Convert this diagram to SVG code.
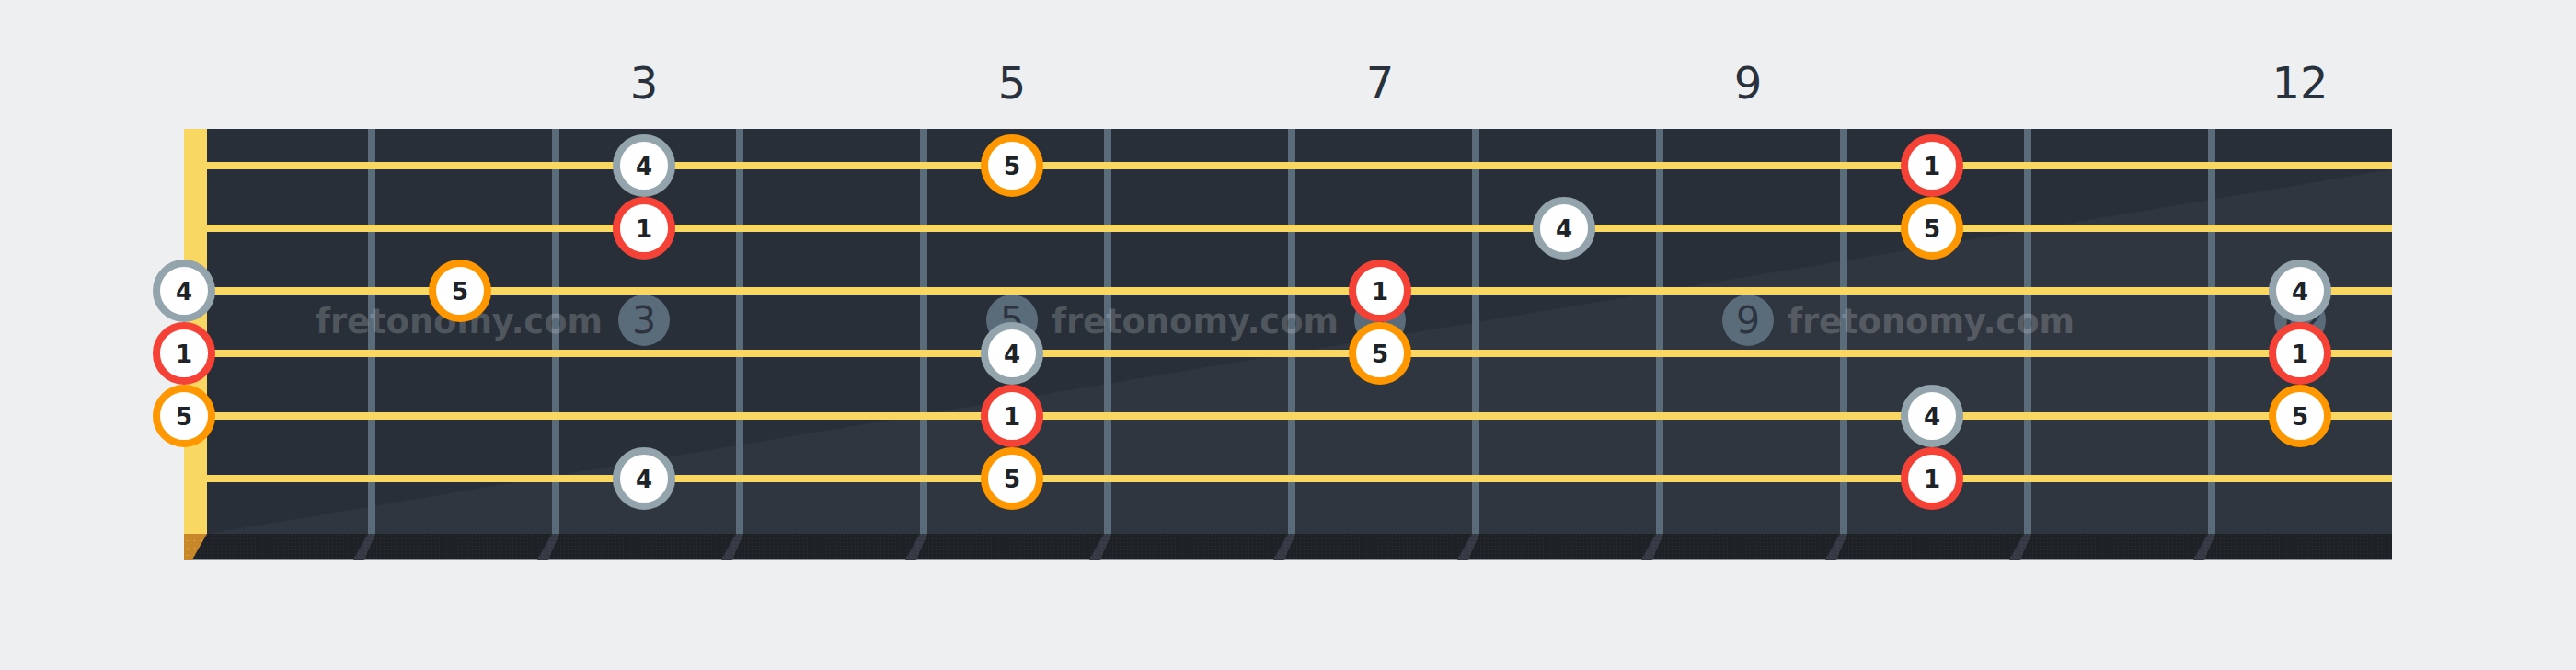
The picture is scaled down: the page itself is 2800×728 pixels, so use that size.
<svg xmlns="http://www.w3.org/2000/svg" width="2800" height="728" viewBox="0 0 2800 728">
<style>
.flabel{font-family:"DejaVu Sans","Liberation Sans",sans-serif;font-size:48px;fill:#29323c;text-anchor:middle}
.fret{fill:#5a6b7a}
.str{stroke:#f8d862;stroke-width:8}
.face{fill:url(#dotsGray)}
.wm{font-family:"DejaVu Sans","Liberation Sans",sans-serif;font-weight:bold;font-size:37px;fill:#ffffff;fill-opacity:0.19}
.wmc{fill:#5a6b7a}
.wmd{font-family:"DejaVu Sans","Liberation Sans",sans-serif;font-size:41px;fill:#2c3440;text-anchor:middle}
.n circle{fill:#ffffff;stroke-width:8}
.n text{font-family:"DejaVu Sans","Liberation Sans",sans-serif;font-weight:bold;font-size:26px;fill:#1e2328;text-anchor:middle}
.r circle{stroke:#f44336}
.o circle{stroke:#ff9800}
.g circle{stroke:#93a4ad}
</style>
<defs>
<pattern id="dotsDark" width="4" height="4" patternUnits="userSpaceOnUse">
<rect width="4" height="4" fill="#1e2227"/>
<rect x="1" y="1" width="1" height="1" fill="#2a2f36"/>
</pattern>
<pattern id="dotsGray" width="4" height="4" patternUnits="userSpaceOnUse">
<rect width="4" height="4" fill="#343943"/>
<rect x="1" y="1" width="1" height="1" fill="#4a505a"/>
</pattern>
<pattern id="dotsNut" width="8" height="8" patternUnits="userSpaceOnUse">
<rect width="8" height="8" fill="#c8882a"/>
<rect x="3" y="3" width="1" height="1" fill="#f0c060"/>
</pattern>
</defs>
<rect width="2800" height="728" fill="#eeeff1"/>
<g id="fret-numbers">
<text class="flabel" x="700" y="107">3</text>
<text class="flabel" x="1100" y="107">5</text>
<text class="flabel" x="1500" y="107">7</text>
<text class="flabel" x="1900" y="107">9</text>
<text class="flabel" x="2500" y="107">12</text>
</g>
<g id="fretboard">
<rect x="225" y="140" width="2375" height="440" fill="#282f38"/>
<polygon points="225,580 2600,184 2600,580" fill="#30363f"/>
<rect x="200" y="580" width="2400" height="28" fill="url(#dotsDark)"/>
<rect x="200" y="607" width="2400" height="2" fill="#8d949b"/>
<rect x="200" y="140" width="25" height="440" fill="#f8d862"/>
<polygon points="200,580 225,580 209,608 200,608" fill="url(#dotsNut)"/>
<g id="fret-faces">
<polygon class="face" points="400,580 408,580 396,608 384,608"/>
<polygon class="face" points="600,580 608,580 596,608 584,608"/>
<polygon class="face" points="800,580 808,580 796,608 784,608"/>
<polygon class="face" points="1000,580 1008,580 996,608 984,608"/>
<polygon class="face" points="1200,580 1208,580 1196,608 1184,608"/>
<polygon class="face" points="1400,580 1408,580 1396,608 1384,608"/>
<polygon class="face" points="1600,580 1608,580 1596,608 1584,608"/>
<polygon class="face" points="1800,580 1808,580 1796,608 1784,608"/>
<polygon class="face" points="2000,580 2008,580 1996,608 1984,608"/>
<polygon class="face" points="2200,580 2208,580 2196,608 2184,608"/>
<polygon class="face" points="2400,580 2408,580 2396,608 2384,608"/>
</g>
<g id="frets">
<rect class="fret" x="400" y="140" width="8" height="440"/>
<rect class="fret" x="600" y="140" width="8" height="440"/>
<rect class="fret" x="800" y="140" width="8" height="440"/>
<rect class="fret" x="1000" y="140" width="8" height="440"/>
<rect class="fret" x="1200" y="140" width="8" height="440"/>
<rect class="fret" x="1400" y="140" width="8" height="440"/>
<rect class="fret" x="1600" y="140" width="8" height="440"/>
<rect class="fret" x="1800" y="140" width="8" height="440"/>
<rect class="fret" x="2000" y="140" width="8" height="440"/>
<rect class="fret" x="2200" y="140" width="8" height="440"/>
<rect class="fret" x="2400" y="140" width="8" height="440"/>
</g>
<g id="watermark">
<circle class="wmc" cx="700" cy="348" r="28"/>
<text class="wmd" x="700" y="362">3</text>
<circle class="wmc" cx="1100" cy="348" r="28"/>
<text class="wmd" x="1100" y="362">5</text>
<circle class="wmc" cx="1500" cy="348" r="28"/>
<text class="wmd" x="1500" y="362">7</text>
<circle class="wmc" cx="1900" cy="348" r="28"/>
<text class="wmd" x="1900" y="362">9</text>
<circle class="wmc" cx="2500" cy="348" r="28"/>
<text class="wmd" x="2500" y="362">12</text>
<text class="wm" x="343" y="362" textLength="312">fretonomy.com</text>
<text class="wm" x="1143" y="362" textLength="312">fretonomy.com</text>
<text class="wm" x="1943" y="362" textLength="312">fretonomy.com</text>
</g>
<g id="strings">
<line class="str" x1="225" y1="180" x2="2600" y2="180"/>
<line class="str" x1="225" y1="248" x2="2600" y2="248"/>
<line class="str" x1="225" y1="316" x2="2600" y2="316"/>
<line class="str" x1="225" y1="384" x2="2600" y2="384"/>
<line class="str" x1="225" y1="452" x2="2600" y2="452"/>
<line class="str" x1="225" y1="520" x2="2600" y2="520"/>
</g>
</g>
<g id="notes">
<g id="n1-3" class="n g"><circle cx="700" cy="180" r="30"/><text x="700" y="189.5">4</text></g>
<g id="n1-5" class="n o"><circle cx="1100" cy="180" r="30"/><text x="1100" y="189.5">5</text></g>
<g id="n1-10" class="n r"><circle cx="2100" cy="180" r="30"/><text x="2100" y="189.5">1</text></g>
<g id="n2-3" class="n r"><circle cx="700" cy="248" r="30"/><text x="700" y="257.5">1</text></g>
<g id="n2-8" class="n g"><circle cx="1700" cy="248" r="30"/><text x="1700" y="257.5">4</text></g>
<g id="n2-10" class="n o"><circle cx="2100" cy="248" r="30"/><text x="2100" y="257.5">5</text></g>
<g id="n3-0" class="n g"><circle cx="200" cy="316" r="30"/><text x="200" y="325.5">4</text></g>
<g id="n3-2" class="n o"><circle cx="500" cy="316" r="30"/><text x="500" y="325.5">5</text></g>
<g id="n3-7" class="n r"><circle cx="1500" cy="316" r="30"/><text x="1500" y="325.5">1</text></g>
<g id="n3-12" class="n g"><circle cx="2500" cy="316" r="30"/><text x="2500" y="325.5">4</text></g>
<g id="n4-0" class="n r"><circle cx="200" cy="384" r="30"/><text x="200" y="393.5">1</text></g>
<g id="n4-5" class="n g"><circle cx="1100" cy="384" r="30"/><text x="1100" y="393.5">4</text></g>
<g id="n4-7" class="n o"><circle cx="1500" cy="384" r="30"/><text x="1500" y="393.5">5</text></g>
<g id="n4-12" class="n r"><circle cx="2500" cy="384" r="30"/><text x="2500" y="393.5">1</text></g>
<g id="n5-0" class="n o"><circle cx="200" cy="452" r="30"/><text x="200" y="461.5">5</text></g>
<g id="n5-5" class="n r"><circle cx="1100" cy="452" r="30"/><text x="1100" y="461.5">1</text></g>
<g id="n5-10" class="n g"><circle cx="2100" cy="452" r="30"/><text x="2100" y="461.5">4</text></g>
<g id="n5-12" class="n o"><circle cx="2500" cy="452" r="30"/><text x="2500" y="461.5">5</text></g>
<g id="n6-3" class="n g"><circle cx="700" cy="520" r="30"/><text x="700" y="529.5">4</text></g>
<g id="n6-5" class="n o"><circle cx="1100" cy="520" r="30"/><text x="1100" y="529.5">5</text></g>
<g id="n6-10" class="n r"><circle cx="2100" cy="520" r="30"/><text x="2100" y="529.5">1</text></g>
</g>
<g id="connectors"/>
</svg>
